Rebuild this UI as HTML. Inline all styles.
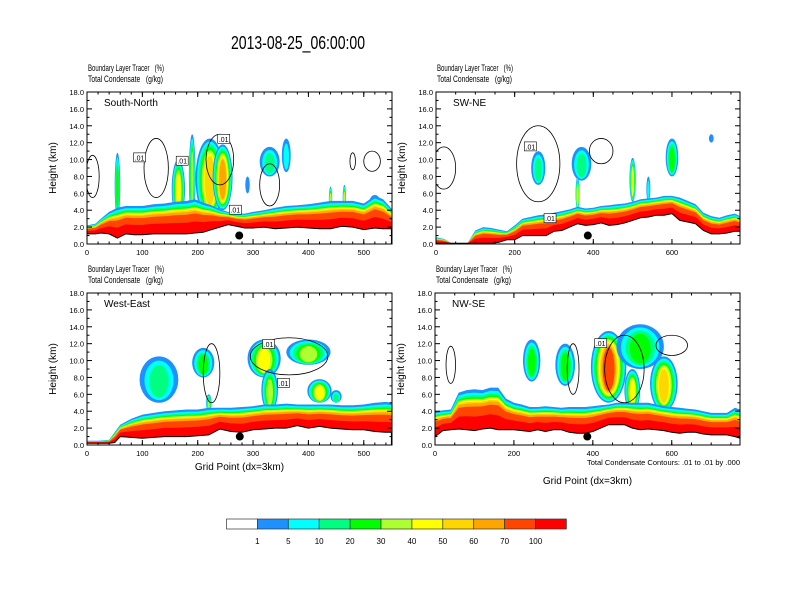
<!DOCTYPE html>
<html><head><meta charset="utf-8">
<style>
html,body{margin:0;padding:0;background:#fff;}
svg{display:block;font-family:"Liberation Sans",sans-serif;}
</style></head>
<body>
<svg id="chart" width="792" height="612" viewBox="0 0 792 612" xmlns="http://www.w3.org/2000/svg">
<rect x="0" y="0" width="792" height="612" fill="#fff"/>
<text x="298" y="49" font-size="18" text-anchor="middle" textLength="134" lengthAdjust="spacingAndGlyphs">2013-08-25_06:00:00</text>
<g id="panels"></g>
<g id="colorbar"></g>
</svg>
<script>
// ---- shared data ----
const levelColors = ['#1e90ff','#00ffff','#00ff80','#00ff00','#adff2f','#ffff00','#ffd700','#ffa500','#ff4500','#ff0000'];
const colorbarLabels = ['1','5','10','20','30','40','50','60','70','100'];
const yTicks = [0,2,4,6,8,10,12,14,16,18];
const bandFractions = [1.0,0.92,0.86,0.81,0.77,0.74,0.70,0.66,0.58,0.34];

// ---- panel 1: South-North ----
const p1x = [0,15,25,40,55,70,85,100,120,140,160,180,195,210,225,240,255,270,285,300,320,340,360,380,400,420,440,460,480,500,520,535,550];
const p1terrain = [1.2,1.2,1.3,1.2,0.7,1.2,1.1,1.1,1.2,1.2,1.2,1.2,1.3,1.4,1.7,2.0,2.3,2.1,1.9,1.9,2.0,1.8,1.9,2.0,1.9,1.8,1.8,2.1,2.0,1.7,1.9,1.8,1.8];
const p1top = [2.2,2.4,3.0,3.8,4.3,4.5,4.5,4.5,4.7,4.8,5.0,5.1,5.3,4.9,4.6,4.1,3.8,3.6,3.6,3.8,4.0,4.3,4.5,4.6,4.7,4.9,5.1,5.1,5.1,4.8,5.7,5.3,4.2];
const p1plumes = [[55,5,3,10.8,3],[165,12,3,10,5],[190,6,3,13,4],[222,26,3,12.5,6],[245,18,4,11.8,7],[330,18,8,11.5,2],[360,8,8.5,12.5,1],[290,4,6,8,0],[440,3,4,6.8,4],[465,3,4,7,4],[520,10,4,5.8,1]];
const p1contours = [[125,9,22,3.5],[240,10,25,3],[330,7,18,2.5],[515,9.8,15,1.2],[480,9.8,5,1],[10,8,12,2.5]];
const p1labels = [[95,10.2],[172,9.8],[247,12.4],[268,4]];

// ---- panel 2: SW-NE ----
const p2x = [0,20,40,60,80,100,120,140,160,180,200,220,240,260,280,300,320,340,360,380,400,420,440,460,480,500,520,540,560,580,600,620,640,660,680,700,720,740,760,773];
const p2terrain = [0.1,0.1,0.1,0.1,0.1,0.1,0.1,0.1,0.2,0.5,0.5,1.0,1.0,1.0,1.0,1.5,1.6,2.0,2.4,2.2,2.3,2.5,2.2,2.3,2.5,2.8,3.1,3.2,3.4,3.4,3.6,2.8,2.6,2.4,1.6,1.2,1.2,1.3,1.5,1.5];
const p2top = [0.8,0.6,0.1,0.1,0.1,1.6,2.0,1.9,1.7,1.5,2.2,3.0,3.2,3.4,3.5,3.7,3.9,4.1,4.4,4.2,4.3,4.5,4.6,4.7,4.8,5.0,5.3,5.4,5.5,5.7,5.7,5.5,5.1,4.7,3.7,3.3,3.1,3.4,3.6,3.3];
const p2plumes = [[260,18,7,11,2],[370,25,7.5,11.5,2],[500,8,5,10.2,5],[600,16,8,12.5,3],[700,6,12,13,0],[360,5,4,8,5],[540,5,5,8,1]];
const p2contours = [[260,9.5,55,4.5],[20,9,30,2.5],[420,11,30,1.5]];
const p2labels = [[240,11.5],[290,3]];

// ---- panel 3: West-East ----
const p3x = [0,20,40,50,60,80,100,120,140,160,180,200,220,240,260,280,300,320,340,360,380,400,420,440,460,480,500,520,540,550];
const p3terrain = [0.2,0.2,0.2,0.3,1.0,0.9,0.8,0.9,1.0,1.0,1.0,1.1,1.2,1.9,1.6,1.5,1.8,1.9,2.0,2.0,2.3,2.0,2.2,2.0,1.9,1.8,1.8,1.6,1.5,1.5];
const p3top = [0.5,0.5,0.6,1.5,2.4,3.1,3.6,3.8,4.0,4.1,4.2,4.2,4.4,4.4,4.4,4.5,4.6,4.8,4.8,4.9,4.8,4.8,4.8,4.8,4.7,4.7,4.8,5.0,5.1,5.0];
const p3plumes = [[130,35,5,10.5,2],[210,20,8,11.5,3],[320,30,8,12.5,5],[400,40,9.5,12.5,4],[330,15,4,9,4],[420,22,5,7.8,5],[220,5,4,6,4],[450,10,5,6.5,2]];
const p3contours = [[225,8.5,15,3.5],[365,10.5,70,2.2]];
const p3labels = [[328,11.9],[355,7.3]];

// ---- panel 4: NW-SE ----
const p4x = [0,20,40,60,80,100,120,140,160,180,200,220,240,260,280,300,320,340,360,380,400,420,440,460,480,500,520,540,560,580,600,620,640,660,680,700,720,740,760,773];
const p4terrain = [1.0,1.7,1.8,1.9,1.8,1.7,1.9,2.0,1.8,1.8,1.8,1.7,1.6,1.8,1.6,1.8,1.8,1.5,1.4,1.4,1.6,2.0,2.4,2.4,2.4,2.0,1.8,1.9,1.8,1.7,1.5,1.4,1.5,1.5,1.3,1.2,1.2,1.2,1.0,0.8];
const p4top = [4.0,4.1,4.2,6.2,6.5,6.6,6.5,6.8,6.8,5.5,5.0,4.8,4.5,4.5,4.6,4.5,4.4,4.5,4.5,4.5,4.6,4.7,4.8,5.0,5.0,5.0,5.0,5.0,4.8,4.6,4.5,4.4,4.3,4.2,4.0,3.8,3.8,3.8,4.4,4.2];
const p4plumes = [[245,22,7.5,12.5,3],[330,25,7,12,3],[440,45,5,13.5,8],[520,60,9,14.3,3],[580,35,4,10.5,6],[500,20,4,9,5]];
const p4contours = [[40,9.5,12,2.2],[480,9,50,4],[600,11.8,40,1.2],[350,9,15,3]];
const p4labels = [[420,12]];

const panels = [
 {name:'south-north',title:'South-North',x0:87,y0:92,w:305,h:152,xmax:551,xt:[0,100,200,300,400,500],xm:20,px:p1x,t:p1terrain,top:p1top,pl:p1plumes,ct:p1contours,lb:p1labels,dot:275,xtitle:false},
 {name:'sw-ne',title:'SW-NE',x0:436,y0:92,w:304,h:152,xmax:773,xt:[0,200,400,600],xm:50,px:p2x,t:p2terrain,top:p2top,pl:p2plumes,ct:p2contours,lb:p2labels,dot:386,xtitle:false},
 {name:'west-east',title:'West-East',x0:87,y0:293,w:305,h:152,xmax:551,xt:[0,100,200,300,400,500],xm:20,px:p3x,t:p3terrain,top:p3top,pl:p3plumes,ct:p3contours,lb:p3labels,dot:276,xtitle:true},
 {name:'nw-se',title:'NW-SE',x0:435,y0:293,w:305,h:152,xmax:773,xt:[0,200,400,600],xm:50,px:p4x,t:p4terrain,top:p4top,pl:p4plumes,ct:p4contours,lb:p4labels,dot:386,xtitle:true,note:true}
];

const NS='http://www.w3.org/2000/svg';
function mk(tag,attrs,parent){const e=document.createElementNS(NS,tag);for(const k in attrs)e.setAttribute(k,attrs[k]);parent.appendChild(e);return e;}
const root=document.getElementById('panels');

panels.forEach((P,pi)=>{
  const g=mk('g',{},root);
  
  
  const sx=v=>P.x0+v/P.xmax*P.w;
  const sy=v=>P.y0+P.h-v/18*P.h;
  const clipId='clip'+pi;
  const cp=mk('clipPath',{id:clipId},g);
  mk('rect',{x:P.x0,y:P.y0,width:P.w,height:P.h},cp);
  const plot=mk('g',{'clip-path':'url(#'+clipId+')'},g);
  
  
  P.pl.forEach((q,qi)=>{
    const [cx,hw,b,tp,mx]=q;
    for(let k=0;k<=mx;k++){
      const f=k/(mx+1);
      const e=mk('ellipse',{cx:sx(cx),cy:sy((b+tp)/2-f*0.3),rx:Math.max(1,(sx(hw)-sx(0))*(1-f*0.75)),ry:(sy(b)-sy(tp))/2*(1-f*0.45),fill:levelColors[k]},plot);
      
      
    }
  });
  bandFractions.forEach((fr,k)=>{
    let d='';
    P.px.forEach((x,i)=>{const v=P.t[i]+fr*(P.top[i]-P.t[i]);d+=(i?'L':'M')+sx(x).toFixed(1)+','+sy(v).toFixed(1);});
    for(let i=P.px.length-1;i>=0;i--)d+='L'+sx(P.px[i]).toFixed(1)+','+sy(P.t[i]).toFixed(1);
    const pth=mk('path',{d:d+'Z',fill:levelColors[k]},plot);
    
    
  });
  let td='M'+sx(P.px[0])+','+sy(0);
  P.px.forEach((x,i)=>{td+='L'+sx(x).toFixed(1)+','+sy(P.t[i]).toFixed(1);});
  td+='L'+sx(P.px[P.px.length-1])+','+sy(0)+'Z';
  const ter=mk('path',{d:td,fill:'#fff',stroke:'#000','stroke-width':1},plot);
  
  
  P.ct.forEach((c,ci)=>{
    const e=mk('ellipse',{cx:sx(c[0]),cy:sy(c[1]),rx:sx(c[2])-sx(0),ry:sy(0)-sy(c[3]),fill:'none',stroke:'#000','stroke-width':0.8},plot);
    
    
  });
  P.lb.forEach((l,li)=>{
    const r=mk('rect',{x:sx(l[0])-6,y:sy(l[1])-5,width:12,height:9,fill:'#fff',stroke:'#000','stroke-width':0.6},plot);
    
    
    const t=mk('text',{x:sx(l[0]),y:sy(l[1])+2.5,'font-size':7,'text-anchor':'middle'},plot);
    t.textContent='.01';
    
    
  });
  const dot=mk('circle',{cx:sx(P.dot),cy:sy(1.0),r:4,fill:'#000'},g);
  
  
  const fr=mk('rect',{x:P.x0,y:P.y0,width:P.w,height:P.h,fill:'none',stroke:'#000','stroke-width':1},g);
  
  
  yTicks.forEach(v=>{
    const y=sy(v);
    mk('line',{x1:P.x0,x2:P.x0+5,y1:y,y2:y,stroke:'#000'},g);
    mk('line',{x1:P.x0+P.w,x2:P.x0+P.w-5,y1:y,y2:y,stroke:'#000'},g);
    const t=mk('text',{x:P.x0-3,y:y+3,'font-size':7.5,'text-anchor':'end'},g);
    t.textContent=v.toFixed(1);
    
    
  });
  for(let v=1;v<18;v+=2){const y=sy(v);mk('line',{x1:P.x0,x2:P.x0+2.5,y1:y,y2:y,stroke:'#000'},g);mk('line',{x1:P.x0+P.w,x2:P.x0+P.w-2.5,y1:y,y2:y,stroke:'#000'},g);}
  for(let v=0;v<=P.xmax;v+=P.xm){const x=sx(v);mk('line',{x1:x,x2:x,y1:P.y0+P.h,y2:P.y0+P.h-2.5,stroke:'#000'},g);mk('line',{x1:x,x2:x,y1:P.y0,y2:P.y0+2.5,stroke:'#000'},g);}
  P.xt.forEach(v=>{
    const x=sx(v);
    mk('line',{x1:x,x2:x,y1:P.y0+P.h,y2:P.y0+P.h-5,stroke:'#000'},g);
    mk('line',{x1:x,x2:x,y1:P.y0,y2:P.y0+5,stroke:'#000'},g);
    const t=mk('text',{x:x,y:P.y0+P.h+11,'font-size':7.5,'text-anchor':'middle'},g);
    t.textContent=String(v);
    
    
  });
  const yt=mk('text',{x:0,y:0,'font-size':10,'text-anchor':'middle',transform:'translate('+(P.x0-31)+','+(P.y0+P.h/2)+') rotate(-90)'},g);
  yt.textContent='Height (km)';
  
  
  const pt=mk('text',{x:P.x0+17,y:P.y0+14,'font-size':10},g);
  pt.textContent=P.title;
  
  
  const s1=mk('text',{x:P.x0+1,y:P.y0-21,'font-size':9.5,textLength:76,lengthAdjust:'spacingAndGlyphs'},g);
  s1.textContent='Boundary Layer Tracer\u00a0\u00a0\u00a0(%)';
  
  
  const s2=mk('text',{x:P.x0+1,y:P.y0-10,'font-size':9.5,textLength:75,lengthAdjust:'spacingAndGlyphs'},g);
  s2.textContent='Total Condensate\u00a0\u00a0\u00a0(g/kg)';
  
  
  if(P.xtitle){
    const xt=mk('text',{x:P.x0+P.w/2,y:P.note?484:470,'font-size':10,'text-anchor':'middle'},g);
    xt.textContent='Grid Point (dx=3km)';
    
    
  }
  if(P.note){
    const nt=mk('text',{x:P.x0+P.w,y:465,'font-size':7.5,'text-anchor':'end'},g);
    nt.textContent='Total Condensate Contours: .01 to .01 by .000';
    
    
  }
});

const cb=document.getElementById('colorbar');
const cbColors=['#ffffff'].concat(levelColors);
const cbx=226.5,cbw=30.9;
cbColors.forEach((c,i)=>{
  const r=mk('rect',{x:cbx+i*cbw,y:519,width:cbw,height:10,fill:c,stroke:'#333','stroke-width':0.7},cb);
  
  
});
colorbarLabels.forEach((l,i)=>{
  const t=mk('text',{x:cbx+(i+1)*cbw,y:544,'font-size':8,'text-anchor':'middle'},cb);
  t.textContent=l;
  
  
});
</script>
</body></html>
